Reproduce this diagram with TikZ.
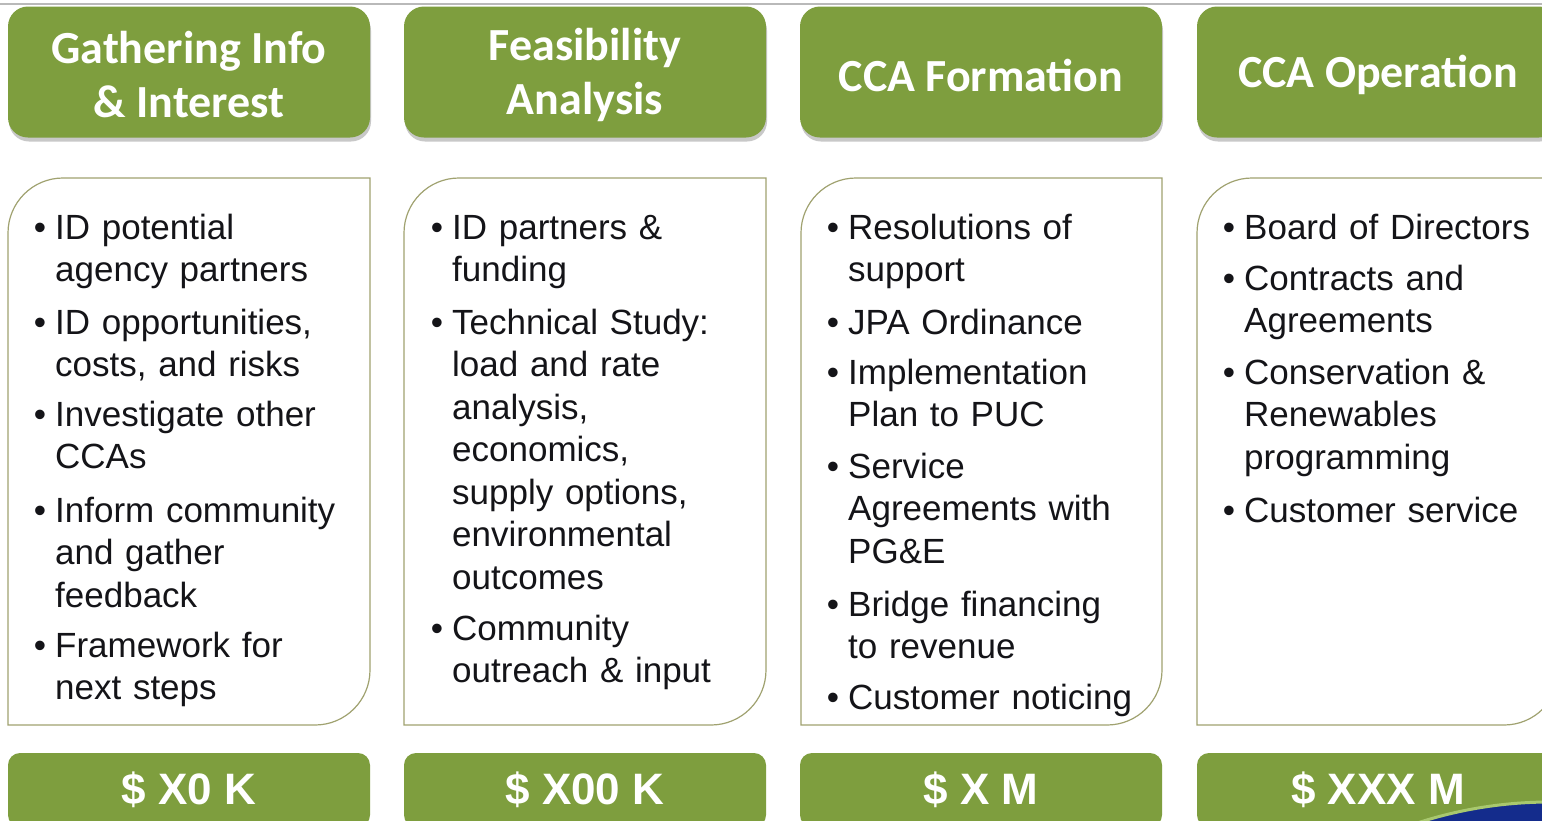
\documentclass[tikz,border=0pt]{standalone}
\usepackage{fontspec}
\setmainfont{Liberation Sans}
\newfontfamily\hdrfont{Carlito}
\usetikzlibrary{shadows}

\definecolor{leaf}{RGB}{126,158,62}
\definecolor{rim}{RGB}{160,162,112}
\definecolor{ink}{RGB}{20,20,24}
\definecolor{navy}{RGB}{20,44,140}
\definecolor{ring}{RGB}{168,200,110}

\newcommand\bodysize{\fontsize{35}{42.5}\selectfont}
\newcommand\itm{\llap{\textbullet\hspace{9pt}}}

\tikzset{
  hdr/.style={fill=leaf, rounded corners=20, minimum width=362, minimum height=131,
    inner sep=0,
    drop shadow={shadow xshift=1pt, shadow yshift=-4pt, opacity=0.3, fill=black!70}},
  hdrtext/.style={inner sep=0, text=white, align=center,
    font=\hdrfont\bfseries\fontsize{46}{54}\selectfont},
  cost/.style={fill=leaf, rounded corners=12, minimum width=362, minimum height=74,
    inner sep=0, text=white, font=\bfseries\fontsize{44}{44}\selectfont},
  item/.style={anchor=base west, inner sep=0, text width=330, align=left,
    font=\bodysize, text=ink},
  leafbox/.style={draw=rim, line width=1.2pt, fill=white}
}

% content panel with rounded top-left and bottom-right corners
\newcommand\leafpanel[2]{%
  \draw[leafbox] (#1,233) arc (180:270:55) -- (#2,178) -- (#2,670)
    arc (0:90:55) -- (#1,725) -- cycle;}

\begin{document}
\begin{tikzpicture}[x=1pt,y=-1pt]
\useasboundingbox (0,0) rectangle (1542,820);
\clip (0,0) rectangle (1542,820);
\fill[white] (0,0) rectangle (1542,820);

\draw[gray!55, line width=1.5pt] (0,4) -- (1542,4);

% phase headers
\node[hdr] (h1) at (189,72)  {};
\node[hdr] (h2) at (585,72)  {};
\node[hdr] (h3) at (981,72)  {};
\node[hdr] (h4) at (1378,72) {};
\node[hdrtext] (h1t) at ([yshift=-3pt]h1.center) {Gathering Info\\\& Interest};
\node[hdrtext] (h2t) at ([yshift=-3pt]h2.center) {Feasibility\\Analysis};
\node[hdrtext] (h3t) at ([yshift=-3pt]h3.center) {CCA Formation};
\node[hdrtext] (h4t) at ([yshift=-3pt]h4.center) {CCA Operation};

% content panels
\leafpanel{8}{370}
\leafpanel{404}{766}
\leafpanel{801}{1162}
\leafpanel{1197}{1559}

% column 1
\node[item] (a1) at (55,239) {\itm ID potential\\agency partners};
\node[item] (a2) at (55,334) {\itm ID opportunities,\\costs, and risks};
\node[item] (a3) at (55,426) {\itm Investigate other\\CCAs};
\node[item] (a4) at (55,522) {\itm Inform community\\and gather\\feedback};
\node[item] (a5) at (55,657) {\itm Framework for\\next steps};

% column 2
\node[item] (b1) at (452,239) {\itm ID partners \&\\funding};
\node[item] (b2) at (452,334) {\itm Technical Study:\\load and rate\\analysis,\\economics,\\supply options,\\environmental\\outcomes};
\node[item] (b3) at (452,640) {\itm Community\\outreach \& input};

% column 3
\node[item] (c1) at (848,239) {\itm Resolutions of\\support};
\node[item] (c2) at (848,334) {\itm JPA Ordinance};
\node[item] (c3) at (848,384) {\itm Implementation\\Plan to PUC};
\node[item] (c4) at (848,478) {\itm Service\\Agreements with\\PG\&E};
\node[item] (c5) at (848,616) {\itm Bridge financing\\to revenue};
\node[item] (c6) at (848,709) {\itm Customer noticing};

% column 4
\node[item] (d1) at (1244,239) {\itm Board of Directors};
\node[item] (d2) at (1244,290) {\itm Contracts and\\Agreements};
\node[item] (d3) at (1244,384) {\itm Conservation \&\\Renewables\\programming};
\node[item] (d4) at (1244,522) {\itm Customer service};

% cost bars
\node[cost] (k1) at (189,790)  {\$ X0 K};
\node[cost] (k2) at (585,790)  {\$ X00 K};
\node[cost] (k3) at (981,790)  {\$ X M};
\node[cost] (k4) at (1378,790) {\$ XXX M};

% corner emblem
\draw[ring, line width=3pt, fill=navy] (1550,1230) circle (428);
\end{tikzpicture}
\end{document}
